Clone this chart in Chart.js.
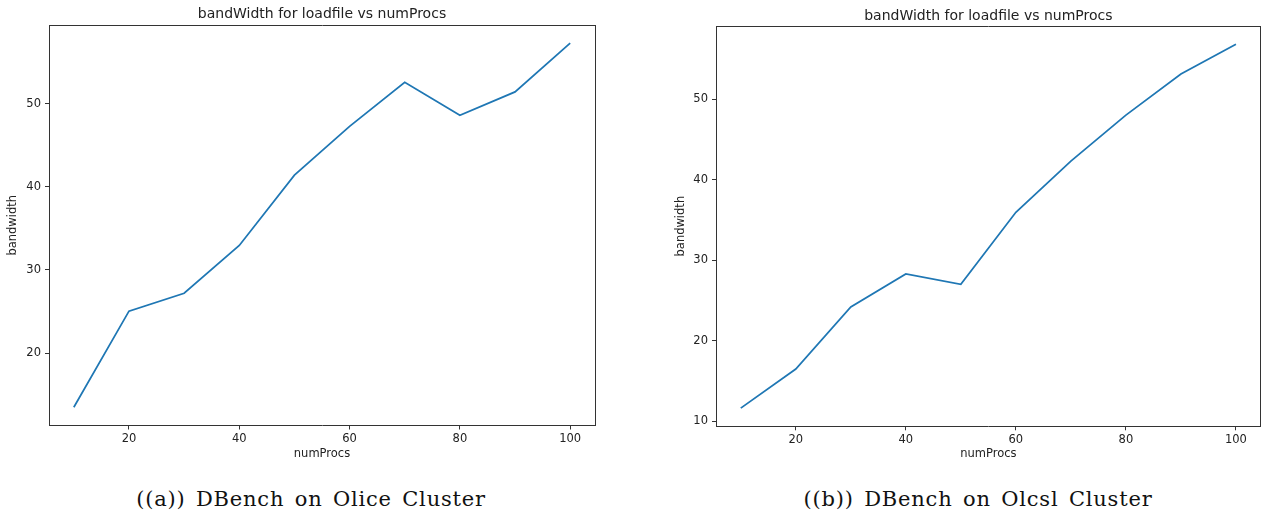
<!DOCTYPE html>
<html>
<head>
<meta charset="utf-8">
<script src="https://cdn.jsdelivr.net/npm/chart.js@4.4.0/dist/chart.umd.min.js"></script>
<style>
  body { margin: 0; background: #fff; width: 1263px; height: 519px; position: relative; overflow: hidden; }
  canvas { position: absolute; top: 0; }
  #chartA { left: 0; }
  #chartB { left: 640px; }
  .caption { position: absolute; top: 487px; font-family: "DejaVu Serif", serif; font-size: 21px; letter-spacing: 0.8px; word-spacing: 3px; color: #111; white-space: nowrap; transform: translateX(-50%); }
</style>
</head>
<body>
<canvas id="chartA" width="620" height="470"></canvas>
<canvas id="chartB" width="623" height="470"></canvas>
<div class="caption" style="left: 311px;">((a)) DBench on Olice Cluster</div>
<div class="caption" style="left: 978px;">((b)) DBench on Olcsl Cluster</div>
<script>
const numProcs = [10, 20, 30, 40, 50, 60, 70, 80, 90, 100];
const oliceBandwidth = [13.5, 25.05, 27.2, 32.95, 41.4, 47.25, 52.55, 48.6, 51.4, 57.25];
const olcslBandwidth = [11.65, 16.5, 24.2, 28.3, 27.0, 35.95, 42.3, 48.0, 53.1, 56.8];

const xTicks = [20, 40, 60, 80, 100];
const oliceYTicks = [20, 30, 40, 50];
const olcslYTicks = [10, 20, 30, 40, 50];

const titleText = 'bandWidth for loadfile vs numProcs';
const lineColor = '#1f77b4';
const textColor = '#222';
const axisColor = '#333';
const font = { family: 'DejaVu Sans', size: 11.5 };

function makeChart(id, values, yTicks, sizes) {
    const ctx = document.getElementById(id);
    const pad = 0.05 * (Math.max(...values) - Math.min(...values));
    const xPad = 0.05 * (numProcs[numProcs.length - 1] - numProcs[0]);
    return new Chart(ctx, {
        type: 'line',
        data: {
            datasets: [{
                data: numProcs.map((x, i) => ({ x: x, y: values[i] })),
                borderColor: lineColor,
                borderWidth: 1.75,
                pointRadius: 0,
                fill: false,
                tension: 0
            }]
        },
        options: {
            responsive: false,
            animation: false,
            devicePixelRatio: 1,
            layout: { padding: 0 },
            plugins: {
                legend: { display: false },
                tooltip: { enabled: false }
            },
            scales: {
                x: {
                    type: 'linear',
                    position: 'bottom',
                    min: numProcs[0] - xPad,
                    max: numProcs[numProcs.length - 1] + xPad,
                    afterBuildTicks: s => { s.ticks = xTicks.map(v => ({ value: v })); },
                    afterFit: s => { s.height = sizes.bottom; },
                    grid: { drawOnChartArea: false, tickLength: 4, tickColor: axisColor },
                    border: { color: axisColor, width: 1 },
                    ticks: { font: font, color: textColor, padding: 3, maxRotation: 0 },
                    title: { display: true, text: 'numProcs', font: font, color: textColor, padding: { top: 0, bottom: 9 } }
                },
                xTop: {
                    type: 'linear',
                    position: 'top',
                    min: numProcs[0] - xPad,
                    max: numProcs[numProcs.length - 1] + xPad,
                    afterFit: s => { s.height = sizes.top; },
                    grid: { display: false },
                    border: { color: axisColor, width: 1 },
                    ticks: { display: false },
                    title: { display: true, text: titleText, font: { family: 'DejaVu Sans', size: 14 }, color: textColor, padding: { top: sizes.titleTop, bottom: 0 } }
                },
                y: {
                    type: 'linear',
                    position: 'left',
                    min: Math.min(...values) - pad,
                    max: Math.max(...values) + pad,
                    afterBuildTicks: s => { s.ticks = yTicks.map(v => ({ value: v })); },
                    afterFit: s => { s.width = sizes.left; },
                    grid: { drawOnChartArea: false, tickLength: 4, tickColor: axisColor },
                    border: { color: axisColor, width: 1 },
                    ticks: { font: font, color: textColor, padding: 4 },
                    title: { display: true, text: 'bandwidth', font: font, color: textColor, padding: { top: sizes.yTitle, bottom: 0 } }
                },
                yRight: {
                    type: 'linear',
                    position: 'right',
                    min: 0,
                    max: 1,
                    afterFit: s => { s.width = sizes.right; },
                    grid: { display: false },
                    border: { color: axisColor, width: 1 },
                    ticks: { display: false }
                }
            }
        }
    });
}

makeChart('chartA', oliceBandwidth, oliceYTicks, { left: 49, right: 25, top: 25, bottom: 44.5, titleTop: 6, yTitle: 6 });
makeChart('chartB', olcslBandwidth, olcslYTicks, { left: 76, right: 2.3, top: 26, bottom: 43.7, titleTop: 7.5, yTitle: 34 });
</script>
</body>
</html>
